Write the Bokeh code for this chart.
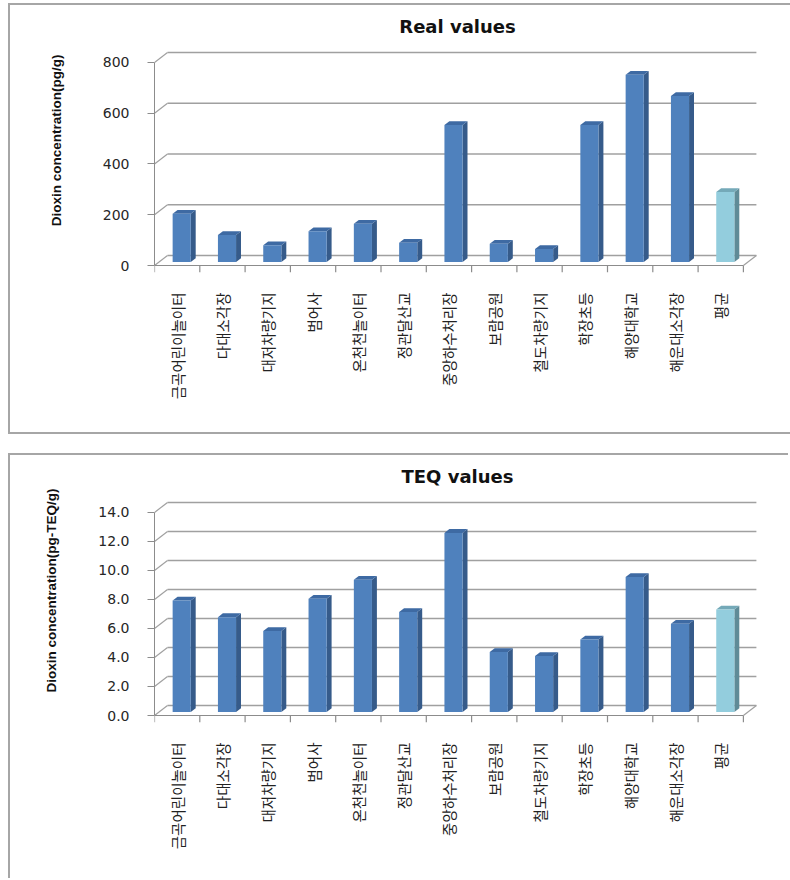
import math
from bokeh.plotting import figure
from bokeh.models import Range1d, FixedTicker, Label
from bokeh.layouts import column
from bokeh.embed import file_html
from bokeh.resources import INLINE

# ---------------- data ----------------
categories = ["금곡어린이놀이터", "다대소각장", "대저차량기지", "범어사", "온천천놀이터",
              "정관달산교", "중앙하수처리장", "보람공원", "철도차량기지", "학장초등",
              "해양대학교", "해운대소각장", "평균"]
real_values = [190, 106, 66, 121, 151, 76, 540, 72, 51, 540, 738, 654, 276]
teq_values = [7.69, 6.54, 5.58, 7.81, 9.12, 6.89, 12.35, 4.13, 3.86, 5.0, 9.3, 6.08, 7.07]
real_ticks = [0, 200, 400, 600, 800]
real_tick_labels = ["0", "200", "400", "600", "800"]
teq_ticks = [0, 2, 4, 6, 8, 10, 12, 14]
teq_tick_labels = ["0.0", "2.0", "4.0", "6.0", "8.0", "10.0", "12.0", "14.0"]

# ---------------- style ----------------
FRONT = "#4f81bd"
SIDE = "#365b8a"
TOP = "#3e6aa3"
AVG_FRONT = "#93cddd"
AVG_SIDE = "#5f8b97"
AVG_TOP = "#74a9b8"
GRID = "#a0a0a0"
AXIS = "#8c8c8c"
BORDER = "#a6a6a6"

FW = 606          # frame width px
AXIS_PX = 203.3   # px from 0 to max tick
DEPTH_X_PX = 13.0
DEPTH_Y_PX = 10.0
TICK_PX = 7.0
PX_PER_CAT = 45.3
FIG_W = 780
LEFT_PX = 144
GRID_TOP_PX = 47   # top back gridline, px below figure content top
FRAME_TOP_PX = 3   # plotting frame starts this far below content top
TITLE_PX = 21      # title centre, px below content top


def make_chart(title, ylabel, values, ticks, tick_labels, height, margin, styles):
    n = len(values)
    ymax = ticks[-1]
    ppu = AXIS_PX / ymax
    dy = DEPTH_Y_PX / ppu
    dx = DEPTH_X_PX / PX_PER_CAT
    y0 = -TICK_PX / ppu
    y1 = ymax + dy + (GRID_TOP_PX - FRAME_TOP_PX) / ppu
    frame_h = (y1 - y0) * ppu
    x0 = -0.5
    x1 = x0 + FW / PX_PER_CAT

    kw = dict(width=FIG_W, height=height, output_backend="svg", toolbar_location=None,
              x_range=Range1d(x0, x1), y_range=Range1d(y0, y1), title=None,
              min_border_left=LEFT_PX, min_border_right=FIG_W - LEFT_PX - FW,
              min_border_top=FRAME_TOP_PX,
              min_border_bottom=int(round(height - FRAME_TOP_PX - frame_h)))
    if margin is not None:
        kw["margin"] = margin
    if styles is not None:
        kw["styles"] = styles
    p = figure(**kw)
    p.background_fill_color = "white"
    p.border_fill_color = "white"
    p.outline_line_color = None
    p.xgrid.visible = False
    p.ygrid.visible = False

    # chart title, centred over the plotting area
    p.add_layout(Label(x=x0 + FW / PX_PER_CAT / 2,
                       y=ymax + dy + (GRID_TOP_PX - TITLE_PX) / ppu,
                       text=title, text_align="center", text_baseline="middle",
                       text_font="DejaVu Sans", text_font_size="18px",
                       text_font_style="bold", text_color="#111111"))

    # y axis (front)
    ya = p.yaxis[0]
    ya.ticker = FixedTicker(ticks=ticks)
    ya.major_label_overrides = {t: l for t, l in zip(ticks, tick_labels)}
    ya.bounds = (0, ymax)
    ya.axis_line_color = AXIS
    ya.major_tick_line_color = AXIS
    ya.major_tick_out = int(TICK_PX)
    ya.major_tick_in = 0
    ya.minor_tick_line_color = None
    ya.major_label_standoff = 18
    ya.major_label_text_font = "DejaVu Sans"
    ya.major_label_text_font_size = "14px"
    ya.major_label_text_color = "#262626"
    ya.axis_label = ylabel
    ya.axis_label_text_font = "Liberation Sans"
    ya.axis_label_text_font_style = "bold"
    ya.axis_label_text_font_size = "13.5px"
    ya.axis_label_text_color = "#111111"
    ya.axis_label_standoff = 36

    # x axis: labels only
    xa = p.xaxis[0]
    idx = list(range(n))
    xa.ticker = FixedTicker(ticks=idx)
    xa.major_label_overrides = {i: c for i, c in zip(idx, categories)}
    xa.axis_line_color = None
    xa.major_tick_line_color = None
    xa.minor_tick_line_color = None
    xa.major_tick_out = 0
    xa.major_tick_in = 0
    xa.major_label_orientation = math.pi / 2
    xa.major_label_standoff = 20
    xa.major_label_text_font = "Noto Sans CJK KR"
    xa.major_label_text_font_size = "14.5px"
    xa.major_label_text_color = "#222222"

    # back wall gridlines
    p.segment(x0=[x0 + dx] * len(ticks), y0=[t + dy for t in ticks],
              x1=[x0 + n + dx] * len(ticks), y1=[t + dy for t in ticks],
              line_color=GRID, line_width=1.6)
    # side-wall diagonals
    p.segment(x0=[x0] * len(ticks), y0=ticks,
              x1=[x0 + dx] * len(ticks), y1=[t + dy for t in ticks],
              line_color=GRID, line_width=1.2)
    # floor: front edge and right diagonal
    p.segment(x0=[x0], y0=[0], x1=[x0 + n], y1=[0], line_color=AXIS, line_width=1.2)
    p.segment(x0=[x0 + n], y0=[0], x1=[x0 + n + dx], y1=[dy], line_color=GRID, line_width=1.2)
    # category boundary ticks
    bounds = [x0 + i for i in range(n + 1)]
    p.segment(x0=bounds, y0=[0] * len(bounds), x1=bounds, y1=[y0] * len(bounds),
              line_color=AXIS, line_width=1.2)

    # 3D bars
    f = 0.35
    bd = 0.38
    w = 0.40
    fronts, sides, tops = [], [], []
    for i, v in enumerate(values):
        l = i - w / 2 + f * dx
        r = i + w / 2 + f * dx
        b = f * dy
        t = v + f * dy
        ox = bd * dx
        oy = bd * dy
        is_avg = (i == n - 1)
        fronts.append((l, r, b, t, AVG_FRONT if is_avg else FRONT))
        sides.append(([r, r + ox, r + ox, r], [b, b + oy, t + oy, t], AVG_SIDE if is_avg else SIDE))
        tops.append(([l, r, r + ox, l + ox], [t, t, t + oy, t + oy], AVG_TOP if is_avg else TOP))

    p.patches(xs=[s[0] for s in sides], ys=[s[1] for s in sides],
              fill_color=[s[2] for s in sides], line_color=None)
    p.patches(xs=[s[0] for s in tops], ys=[s[1] for s in tops],
              fill_color=[s[2] for s in tops], line_color=None)
    p.quad(left=[q[0] for q in fronts], right=[q[1] for q in fronts],
           bottom=[q[2] for q in fronts], top=[q[3] for q in fronts],
           fill_color=[q[4] for q in fronts], line_color=None)
    return p


top_styles = {"border-left": f"2px solid {BORDER}", "border-top": f"2px solid {BORDER}",
              "border-bottom": f"2px solid {BORDER}"}
bottom_styles = {"border-left": f"2px solid {BORDER}", "border-top": f"2px solid {BORDER}"}

p1 = make_chart("Real values", "Dioxin concentration(pg/g)", real_values,
                real_ticks, real_tick_labels, 427, None, None)
box1 = column(p1, margin=(3, 0, 0, 8), styles=top_styles)
p2 = make_chart("TEQ values", "Dioxin concentration(pg-TEQ/g)", teq_values,
                teq_ticks, teq_tick_labels, 425, (19, 0, 0, 8), bottom_styles)

layout = column(box1, p2, spacing=0)
open("out.html", "w").write(file_html(layout, INLINE))
